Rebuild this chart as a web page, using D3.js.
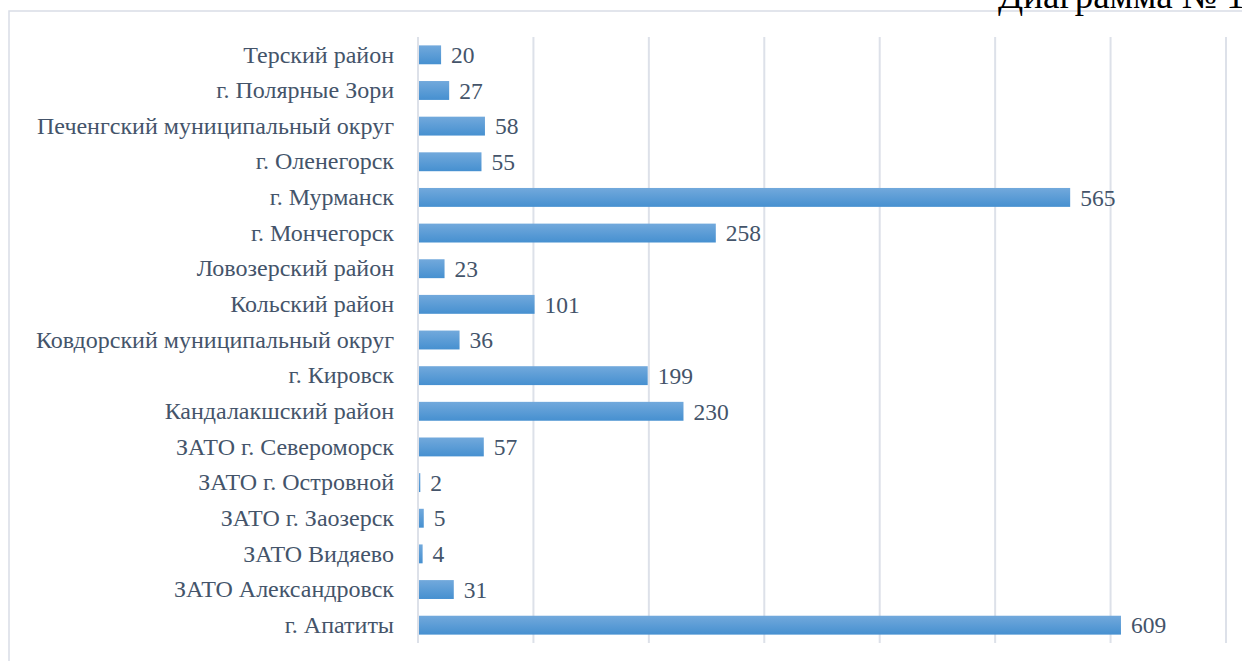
<!DOCTYPE html>
<html>
<head>
<meta charset="utf-8">
<script src="https://cdn.jsdelivr.net/npm/d3@7"></script>
<style>
html,body{margin:0;padding:0;background:#fff;}
svg{display:block;}
</style>
</head>
<body>
<svg id="chart" width="1242" height="661"></svg>
<script>
const categories = [
  "Терский район",
  "г. Полярные Зори",
  "Печенгский муниципальный округ",
  "г. Оленегорск",
  "г. Мурманск",
  "г. Мончегорск",
  "Ловозерский район",
  "Кольский район",
  "Ковдорский муниципальный округ",
  "г. Кировск",
  "Кандалакшский район",
  "ЗАТО г. Североморск",
  "ЗАТО г. Островной",
  "ЗАТО г. Заозерск",
  "ЗАТО Видяево",
  "ЗАТО Александровск",
  "г. Апатиты"
];
const values = [20, 27, 58, 55, 565, 258, 23, 101, 36, 199, 230, 57, 2, 5, 4, 31, 609];
const gridTicks = [0, 100, 200, 300, 400, 500, 600, 700];
const titleText = "Диаграмма № 1";

const svg = d3.select("#chart");
const font = "'Liberation Serif','Times New Roman',serif";
const textColor = "#44546a";
const gridColor = "#dde1e9";

// gradient
const defs = svg.append("defs");
const grad = defs.append("linearGradient").attr("id","barGrad").attr("x1","0").attr("y1","0").attr("x2","0").attr("y2","1");
grad.append("stop").attr("offset","0%").attr("stop-color","#72a9dc");
grad.append("stop").attr("offset","100%").attr("stop-color","#4690d0");

// frame
svg.append("rect").attr("x",9).attr("y",11).attr("width",1300).attr("height",700)
  .attr("fill","none").attr("stroke","#d9dde6").attr("stroke-width",1.5);

// title (partially cut by the page edge, as in the source)
svg.append("text").attr("x",998).attr("y",8).attr("font-family",font).attr("font-size",37)
  .attr("fill","#000").text(titleText);

const x = d3.scaleLinear().domain([0,700]).range([418,1226]);
const y = d3.scaleBand().domain(categories).range([37,643]).paddingInner(0.47).paddingOuter(0.235);

// gridlines
svg.append("g").selectAll("line").data(gridTicks).join("line")
  .attr("x1",d=>x(d)).attr("x2",d=>x(d)).attr("y1",37).attr("y2",643)
  .attr("stroke",gridColor).attr("stroke-width",2);

// bars
svg.append("g").selectAll("rect").data(categories).join("rect")
  .attr("x",x(0)+1).attr("y",d=>y(d))
  .attr("width",(d,i)=>Math.max(0,x(values[i])-x(0)-1))
  .attr("height",y.bandwidth())
  .attr("fill","url(#barGrad)");

// value labels
svg.append("g").selectAll("text").data(categories).join("text")
  .attr("x",(d,i)=>x(values[i])+10)
  .attr("y",d=>y(d)+y.bandwidth()/2)
  .attr("dy","0.35em")
  .attr("font-family",font).attr("font-size",23.5).attr("fill",textColor)
  .text((d,i)=>values[i]);

// category axis labels
const yAxis = d3.axisLeft(y).tickSize(0).tickPadding(24);
const gy = svg.append("g").attr("transform",`translate(${x(0)},0)`).call(yAxis);
gy.select(".domain").remove();
gy.selectAll("text").attr("font-family",font).attr("font-size",24).attr("fill",textColor);
</script>
</body>
</html>
